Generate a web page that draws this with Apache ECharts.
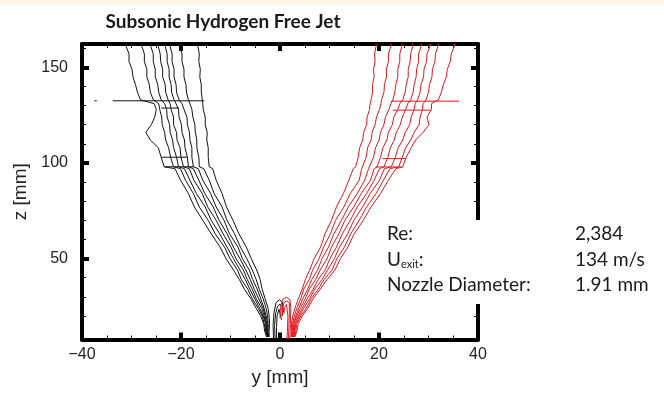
<!DOCTYPE html>
<html>
<head>
<meta charset="utf-8">
<script src="https://cdn.jsdelivr.net/npm/echarts@6/dist/echarts.min.js"></script>
<style>
  html, body { margin: 0; padding: 0; background: #fff; }
  #chart { width: 664px; height: 397px; }
</style>
</head>
<body>
<div id="chart"></div>
<script>
// z stations [mm] of the three camera windows (shared by every contour in a window)
const zLow = [9, 12, 16, 20, 24, 29, 34, 39, 44, 50, 56, 63, 70, 77, 84, 91, 97];
const zMid = [98, 103, 108, 112, 116, 120, 124, 128, 131];
const zHigh = [133, 137, 141, 145, 149, 153, 157, 161, 164];

// left half (black), outer contour first, y [mm] at each z station
const blackLow = [
  [-2.7, -3.1, -3.3, -3.9, -4.8, -5.9, -7.2, -8.2, -9.4, -10.9, -12.1, -13.9, -15.6, -17.3, -18.5, -20.1, -21.2],
  [-2.5, -2.9, -3.2, -3.6, -4.4, -5.6, -6.5, -7.8, -8.6, -10.1, -11.2, -13.1, -14.5, -16.3, -17.5, -19.1, -20.1],
  [-2.5, -2.8, -2.9, -3.4, -4.1, -5.1, -6.1, -7.0, -8.1, -9.4, -10.7, -12.2, -13.9, -15.1, -16.9, -18.2, -19.3],
  [-2.4, -2.7, -2.8, -3.2, -3.7, -4.8, -5.6, -6.6, -7.4, -8.9, -9.9, -11.5, -12.9, -14.6, -15.7, -17.4, -18.3],
  [-2.4, -2.6, -2.7, -3.0, -3.4, -4.3, -5.2, -6.0, -6.9, -8.1, -9.4, -10.7, -12.3, -13.5, -15.2, -16.4, -17.5],
  [-2.3, -2.5, -2.5, -2.8, -3.2, -3.9, -4.6, -5.5, -6.2, -7.6, -8.5, -10.2, -11.3, -12.9, -14.0, -15.6, -16.5],
  [-2.3, -2.4, -2.4, -2.5, -2.8, -3.4, -4.2, -4.8, -5.6, -6.7, -8.0, -9.2, -10.7, -11.7, -13.3, -14.3, -15.4],
  [-2.2, -2.2, -2.1, -2.2, -2.4, -3.0, -3.6, -4.0, -4.7, -5.8, -6.8, -8.3, -9.5, -10.8, -11.7, -12.9, -13.6]
];
const blackMid = [
  [-23.4, -24.0, -24.6, -26.2, -27.1, -26.0, -25.3, -25.0, -25.4],
  [-21.5, -22.1, -22.5, -23.1, -23.3, -23.8, -23.9, -24.3, -24.5],
  [-20.5, -20.9, -21.5, -21.7, -22.2, -22.3, -22.8, -22.9, -23.3],
  [-19.5, -20.0, -20.2, -20.8, -20.9, -21.5, -21.5, -22.0, -22.2],
  [-18.5, -18.7, -19.2, -19.3, -19.8, -19.9, -20.4, -20.5, -21.0],
  [-17.5, -17.8, -17.8, -18.2, -18.3, -18.7, -18.8, -19.4, -19.8],
  [-16.3, -16.4, -16.8, -16.8, -17.1, -17.2, -17.6, -17.8, -18.2],
  [-14.3, -14.5, -14.5, -14.8, -14.7, -15.1, -15.1, -15.5, -15.6]
];
const blackHigh = [
  [-28.2, -28.8, -29.2, -29.7, -29.9, -30.5, -30.5, -31.1, -31.3],
  [-25.6, -26.2, -26.4, -26.9, -26.9, -27.4, -27.4, -27.9, -28.0],
  [-24.0, -24.5, -24.7, -25.2, -25.2, -25.6, -25.6, -26.1, -26.2],
  [-22.6, -23.1, -23.2, -23.7, -23.7, -24.1, -24.2, -24.6, -24.8],
  [-21.4, -21.9, -22.0, -22.4, -22.4, -22.8, -22.8, -23.2, -23.3],
  [-20.4, -20.9, -21.0, -21.4, -21.4, -21.8, -21.8, -22.2, -22.3],
  [-18.5, -18.9, -19.0, -19.4, -19.4, -19.8, -19.8, -20.2, -20.3],
  [-15.7, -15.9, -15.9, -16.2, -16.1, -16.4, -16.3, -16.6, -16.7]
];

// right half (red), outer contour first
const redLow = [
  [3.0, 3.4, 3.7, 4.5, 5.6, 6.7, 8.1, 9.5, 11.1, 12.2, 13.7, 15.0, 16.8, 18.4, 20.3, 21.9, 23.4],
  [2.9, 3.2, 3.4, 4.2, 5.3, 6.3, 7.7, 8.9, 10.5, 11.5, 13.0, 14.3, 16.0, 17.5, 19.4, 20.9, 22.2],
  [2.8, 3.0, 3.2, 3.9, 4.8, 6.0, 7.0, 8.5, 9.6, 11.0, 12.0, 13.7, 14.9, 16.7, 18.2, 20.1, 21.1],
  [2.7, 2.9, 3.0, 3.7, 4.5, 5.5, 6.7, 7.7, 9.1, 10.1, 11.4, 12.6, 14.2, 15.6, 17.5, 19.0, 20.1],
  [2.6, 2.7, 2.8, 3.4, 4.1, 5.1, 5.9, 7.2, 8.1, 9.5, 10.4, 11.9, 13.1, 14.9, 16.4, 18.3, 19.0],
  [2.5, 2.6, 2.7, 3.2, 3.8, 4.6, 5.6, 6.4, 7.6, 8.5, 9.8, 10.9, 12.4, 13.8, 15.6, 17.1, 17.9],
  [2.4, 2.5, 2.5, 2.9, 3.4, 4.2, 4.8, 5.9, 6.6, 7.9, 8.8, 10.2, 11.2, 12.9, 14.2, 16.0, 16.5],
  [2.3, 2.3, 2.3, 2.6, 3.0, 3.7, 4.5, 5.1, 6.0, 6.9, 8.2, 9.1, 10.4, 11.4, 12.8, 13.9, 14.8]
];
const redMid = [
  [24.8, 25.5, 26.5, 27.4, 28.9, 30.1, 29.7, 30.6, 30.6],
  [24.0, 24.7, 25.4, 26.4, 27.1, 28.1, 28.3, 28.8, 28.9],
  [22.5, 23.3, 23.9, 24.8, 25.3, 26.2, 26.5, 27.1, 27.3],
  [21.0, 21.8, 22.3, 23.1, 23.5, 24.3, 24.7, 25.4, 25.8],
  [19.6, 20.3, 20.8, 21.6, 21.9, 22.7, 23.0, 23.8, 24.2],
  [18.2, 18.9, 19.3, 20.0, 20.3, 21.0, 21.3, 22.0, 22.4],
  [16.8, 17.4, 17.7, 18.4, 18.6, 19.2, 19.5, 20.1, 20.4],
  [15.3, 15.8, 16.1, 16.7, 16.9, 17.5, 17.6, 18.1, 18.2]
];
const redHigh = [
  [32.0, 32.6, 33.0, 33.6, 33.8, 34.4, 34.6, 35.2, 35.4],
  [29.5, 30.0, 30.2, 30.7, 30.8, 31.3, 31.4, 31.9, 32.1],
  [27.8, 28.3, 28.5, 29.0, 29.1, 29.6, 29.7, 30.3, 30.5],
  [26.4, 26.9, 27.1, 27.5, 27.6, 28.0, 28.0, 28.5, 28.7],
  [24.8, 25.3, 25.5, 25.9, 25.9, 26.3, 26.4, 26.8, 27.0],
  [22.8, 23.2, 23.4, 23.8, 23.8, 24.2, 24.2, 24.6, 24.8],
  [20.5, 21.0, 21.1, 21.5, 21.5, 21.9, 21.9, 22.4, 22.6],
  [18.4, 18.7, 18.7, 19.0, 18.9, 19.2, 19.1, 19.4, 19.5]
];

// small loops right above the nozzle, [y, z]
const blackCore = [
  [[-1.3, 8], [-1.4, 15], [-1.2, 22], [-0.8, 27], [-0.1, 28.5], [0.5, 27], [0.7, 22]],
  [[-1.0, 8], [-1.1, 15], [-0.9, 21], [-0.5, 25], [0.0, 26.2], [0.4, 25], [0.5, 20]],
  [[-0.7, 8], [-0.7, 14], [-0.6, 20], [-0.2, 23.5], [0.2, 23], [0.3, 18]]
];
const redCore = [
  [[0.0, 19], [0.1, 25], [0.6, 28.8], [1.3, 29.8], [2.0, 28.5], [2.2, 24], [2.1, 16], [2.0, 8]],
  [[0.4, 20], [0.5, 24.5], [0.9, 27.3], [1.4, 27.9], [1.9, 26.8], [1.9, 22], [1.8, 14], [1.7, 8]],
  [[0.8, 21], [0.9, 24.5], [1.3, 26], [1.6, 25.2], [1.6, 20], [1.5, 12], [1.4, 8]]
];

// horizontal seams where the camera windows were stitched, [y, z]
const blackSeams = [
  [[-37.5, 132.5], [-37.0, 132.5]],
  [[-33.8, 132.5], [-15.3, 132.5]],
  [[-24.0, 128.7], [-20.4, 128.7]],
  [[-24.0, 103], [-18.7, 103]],
  [[-23.4, 98], [-17.4, 98]]
];
const redSeams = [
  [[22.4, 132.3], [36.2, 132.3]],
  [[22.8, 127.6], [30.5, 127.6]],
  [[20.7, 102.3], [25.5, 102.3]],
  [[19.4, 97.9], [24.8, 97.9]]
];

const xMajor = [-40, -20, 0, 20, 40];
const zMajor = [50, 100, 150];
const zMinor = [20, 30, 40, 60, 70, 80, 90, 110, 120, 130, 140, 160];

const BLACK = '#111111';
const RED = '#e3161d';

function contour(low, mid, high) {
  const pts = [];
  low.forEach((y, i) => pts.push([y, zLow[i]]));
  mid.forEach((y, i) => pts.push([y, zMid[i]]));
  high.forEach((y, i) => pts.push([y, zHigh[i]]));
  return pts;
}

function lineSeries(data, color) {
  return {
    type: 'line',
    data: data,
    symbol: 'none',
    silent: true,
    animation: false,
    lineStyle: { color: color, width: 1 }
  };
}

const series = [];
blackLow.forEach((_, k) => series.push(lineSeries(contour(blackLow[k], blackMid[k], blackHigh[k]), BLACK)));
redLow.forEach((_, k) => series.push(lineSeries(contour(redLow[k], redMid[k], redHigh[k]), RED)));
blackCore.forEach(d => series.push(lineSeries(d, BLACK)));
redCore.forEach(d => series.push(lineSeries(d, RED)));
blackSeams.forEach(d => series.push(lineSeries(d, BLACK)));
redSeams.forEach(d => series.push(lineSeries(d, RED)));

const minus = v => (v < 0 ? '\u2212' + (-v) : String(v));
const tickFont = { fontFamily: 'Liberation Sans', fontSize: 16, color: '#222' };
const frame = { show: true, onZero: false, lineStyle: { color: '#000', width: 4 } };
const noLine = { show: false, onZero: false };
const majorTick = { show: true, inside: true, length: 7, lineStyle: { color: '#000', width: 4 } };
const minorTick = { show: true, inside: true, length: 4, lineStyle: { color: '#000', width: 1 } };

const chart = echarts.init(document.getElementById('chart'));
chart.setOption({
  animation: false,
  backgroundColor: '#fff',
  grid: { left: 82, right: 186, top: 44, bottom: 57.5, containLabel: false, outerBoundsMode: 'none' },
  xAxis: [
    {
      type: 'value', position: 'bottom', min: -40, max: 40, interval: 20,
      axisLine: frame, axisTick: majorTick, splitLine: { show: false },
      axisLabel: Object.assign({ margin: 7, formatter: minus, customValues: xMajor }, tickFont),
      name: 'y [mm]', nameLocation: 'middle', nameGap: 29,
      nameTextStyle: { fontFamily: 'Liberation Sans', fontSize: 19, color: '#222' }
    },
    {
      type: 'value', position: 'bottom', min: -40, max: 40, interval: 5,
      axisLine: noLine, axisTick: minorTick, axisLabel: { show: false }, splitLine: { show: false }
    },
    {
      type: 'value', position: 'top', min: -40, max: 40, interval: 20,
      axisLine: frame, axisTick: majorTick, axisLabel: { show: false }, splitLine: { show: false }
    },
    {
      type: 'value', position: 'top', min: -40, max: 40, interval: 5,
      axisLine: noLine, axisTick: minorTick, axisLabel: { show: false }, splitLine: { show: false }
    }
  ],
  yAxis: [
    {
      type: 'value', position: 'left', min: 7.7, max: 162.2,
      axisLine: frame, splitLine: { show: false },
      axisTick: Object.assign({ customValues: zMajor }, majorTick),
      axisLabel: Object.assign({ margin: 14, customValues: zMajor }, tickFont),
      name: 'z [mm]', nameLocation: 'middle', nameGap: 52,
      nameTextStyle: { fontFamily: 'Liberation Sans', fontSize: 19, color: '#222' }
    },
    {
      type: 'value', position: 'left', min: 7.7, max: 162.2,
      axisLine: noLine, splitLine: { show: false }, axisLabel: { show: false },
      axisTick: Object.assign({ customValues: zMinor }, minorTick)
    },
    {
      type: 'value', position: 'right', min: 7.7, max: 162.2,
      axisLine: frame, splitLine: { show: false }, axisLabel: { show: false },
      axisTick: Object.assign({ customValues: zMajor }, majorTick)
    },
    {
      type: 'value', position: 'right', min: 7.7, max: 162.2,
      axisLine: noLine, splitLine: { show: false }, axisLabel: { show: false },
      axisTick: Object.assign({ customValues: zMinor }, minorTick)
    }
  ],
  graphic: [
    { type: 'rect', left: 0, top: 0, z: 50, shape: { width: 664, height: 5 }, style: { fill: '#fcf7ef' } },
    { type: 'rect', left: 383, top: 220, z: 50, shape: { width: 281, height: 84 }, style: { fill: '#fff' } },
    {
      type: 'text', x: 223, y: 22, z: 60,
      style: { text: 'Subsonic Hydrogen Free Jet', fontFamily: 'Lato', fontWeight: 'bold', fontSize: 19,
        fill: '#1a1a1a', align: 'center', verticalAlign: 'middle' }
    },
    { type: 'text', x: 387, y: 234, z: 60,
      style: { text: 'Re:', fontFamily: 'Lato', fontSize: 19, fill: '#1a1a1a', verticalAlign: 'middle' } },
    { type: 'text', x: 387, y: 260, z: 60,
      style: { text: '{a|U}{s|exit}{a|:}', verticalAlign: 'middle', fill: '#1a1a1a',
        rich: {
          a: { fontFamily: 'Lato', fontSize: 19, fill: '#1a1a1a', verticalAlign: 'bottom' },
          s: { fontFamily: 'Lato', fontSize: 11, lineHeight: 8, fill: '#1a1a1a', verticalAlign: 'bottom' }
        } } },
    { type: 'text', x: 387, y: 285, z: 60,
      style: { text: 'Nozzle Diameter:', fontFamily: 'Lato', fontSize: 19, fill: '#1a1a1a', verticalAlign: 'middle' } },
    { type: 'text', x: 575, y: 234, z: 60,
      style: { text: '2,384', fontFamily: 'Lato', fontSize: 19, fill: '#1a1a1a', verticalAlign: 'middle' } },
    { type: 'text', x: 575, y: 260, z: 60,
      style: { text: '134 m/s', fontFamily: 'Lato', fontSize: 19, fill: '#1a1a1a', verticalAlign: 'middle' } },
    { type: 'text', x: 575, y: 285, z: 60,
      style: { text: '1.91 mm', fontFamily: 'Lato', fontSize: 19, fill: '#1a1a1a', verticalAlign: 'middle' } }
  ],
  series: series
});
</script>
</body>
</html>
